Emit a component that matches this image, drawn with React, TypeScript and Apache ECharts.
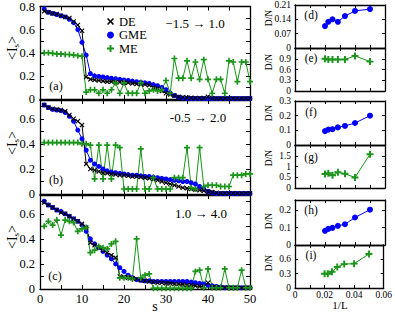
import React, { useEffect, useRef } from "react";
import * as echarts from "echarts";

const FONT = "Liberation Serif";

// s positions
const S = [1,2,3,4,5,6,7,8,9,10,11,12,13,14,15,16,17,18,19,20,21,22,23,24,25,26,27,28,29,30,31,32,33,34,35,36,37,38,39,40,41,42,43,44,45,46,47,48,49,50];

// panel (a)  -1.5 -> 1.0
const DE_A = [0.76,0.75,0.74,0.735,0.72,0.71,0.70,0.67,0.64,0.59, 0.19,0.17,0.165,0.16,0.155,0.15,0.15,0.145,0.145,0.14, 0.14,0.135,0.13,0.13,0.125,0.12,0.10,0.09,0.07,0.05, 0.04,0.03,0.02,0.015,0.01,0.01,0.008,0.008,0.008,0.02, 0.006,0.005,0.005,0.005,0.005,0.005,0.005,0.005,0.005,0.005];
const GME_A = [0.78,0.75,0.74,0.73,0.72,0.71,0.69,0.66,0.60,0.49, 0.38,0.22,0.20,0.195,0.19,0.185,0.18,0.175,0.17,0.165, 0.16,0.155,0.15,0.145,0.14,0.135,0.125,0.115,0.10,0.08, 0.05,0.03,0.015,0.008,0.004,0.004,0.004,0.004,0.004,0.004, 0.004,0.004,0.004,0.004,0.004,0.004,0.004,0.004,0.004,0.004];
const ME_A = [0.40,0.40,0.395,0.39,0.39,0.385,0.385,0.38,0.375,0.37, 0.06,0.08,0.08,0.05,0.08,0.05,0.08,0.14,0.05,0.14, 0.05,0.05,0.05,0.14,0.05,0.07,0.08,0.07,0.08,0.16, 0.05,0.35,0.18,0.18,0.33,0.18,0.32,0.17,0.34,0.17, 0.05,0.17,0.17,0.05,0.33,0.32,0.15,0.32,0.32,0.15];

// panel (b)  -0.5 -> 2.0
const DE_B = [0.71,0.69,0.68,0.675,0.67,0.66,0.63,0.60,0.58,0.55, 0.24,0.20,0.19,0.18,0.17,0.165,0.16,0.155,0.15,0.15, 0.145,0.14,0.14,0.135,0.13,0.125,0.12,0.11,0.10,0.09, 0.08,0.07,0.06,0.05,0.045,0.04,0.035,0.03,0.025,0.02, 0.015,0.01,0.005,0.005,0.005,0.005,0.005,0.005,0.005,0.005];
const GME_B = [0.71,0.69,0.675,0.67,0.665,0.65,0.62,0.58,0.51,0.44, 0.35,0.27,0.24,0.22,0.20,0.185,0.175,0.17,0.165,0.16, 0.155,0.15,0.15,0.145,0.14,0.14,0.135,0.13,0.125,0.12, 0.115,0.11,0.105,0.10,0.10,0.09,0.08,0.06,0.04,0.02, 0.01,0.004,0.004,0.004,0.004,0.004,0.004,0.004,0.004,0.004];
const ME_B = [0.41,0.41,0.41,0.41,0.41,0.41,0.41,0.41,0.41,0.40, 0.40,0.39,0.12,0.39,0.12,0.39,0.12,0.39,0.37,0.04, 0.04,0.04,0.04,0.36,0.04,0.04,0.13,0.04,0.04,0.04, 0.04,0.13,0.13,0.13,0.37,0.05,0.04,0.37,0.06,0.07, 0.07,0.07,0.06,0.06,0.06,0.15,0.15,0.15,0.16,0.16];

// panel (c)  1.0 -> 4.0
const DE_C = [0.69,0.67,0.65,0.63,0.61,0.60,0.58,0.56,0.54,0.52, 0.49,0.37,0.35,0.33,0.31,0.29,0.27,0.25,0.10,0.095, 0.09,0.085,0.08,0.07,0.065,0.06,0.055,0.05,0.05,0.045, 0.045,0.04,0.04,0.035,0.03,0.03,0.025,0.02,0.02,0.05, 0.015,0.015,0.012,0.012,0.01,0.01,0.01,0.01,0.01,0.01];
const GME_C = [0.70,0.67,0.65,0.63,0.62,0.60,0.58,0.56,0.54,0.51, 0.46,0.40,0.36,0.33,0.30,0.27,0.24,0.20,0.17,0.14, 0.11,0.09,0.075,0.07,0.065,0.065,0.06,0.06,0.06,0.06, 0.06,0.06,0.06,0.06,0.06,0.055,0.05,0.045,0.04,0.03, 0.025,0.02,0.015,0.01,0.01,0.01,0.01,0.01,0.01,0.01];
const ME_C = [0.50,0.54,0.51,0.55,0.43,0.55,0.54,0.53,0.46,0.48, 0.49,0.29,0.31,0.34,0.33,0.32,0.36,0.38,0.09,0.09, 0.09,0.08,0.40,0.09,0.11,0.12,0.005,0.005,0.005,0.005, 0.005,0.005,0.005,0.005,0.005,0.005,0.14,0.15,0.01,0.16, 0.01,0.01,0.01,0.16,0.01,0.01,0.01,0.15,0.01,0.01];

// right column: D/N vs 1/L
const INV_L = [0.02, 0.0222, 0.025, 0.0286, 0.0333, 0.04, 0.05];
const D_GME = [0.107, 0.128, 0.140, 0.128, 0.156, 0.181, 0.190];
const E_ME = [0.90, 0.88, 0.88, 0.88, 0.88, 0.98, 0.82];
const F_GME = [0.095, 0.105, 0.108, 0.12, 0.13, 0.15, 0.20];
const G_ME = [0.65, 0.69, 0.59, 0.73, 0.66, 0.49, 1.57];
const H_GME = [0.082, 0.093, 0.099, 0.111, 0.120, 0.159, 0.204];
const I_ME = [0.30, 0.30, 0.34, 0.44, 0.50, 0.51, 0.71];

const BLACK = "#000000";
const BLUE = "#0000ff";
const GREEN = "#1a951a";
const CROSS = "path://M0,1.6L1.6,0L5,3.4L8.4,0L10,1.6L6.6,5L10,8.4L8.4,10L5,6.6L1.6,10L0,8.4L3.4,5Z";
const PLUS = "path://M3.6,0H6.4V3.6H10V6.4H6.4V10H3.6V6.4H0V3.6H3.6Z";

type Panel = {
  left: number; top: number; width: number; height: number;
  xmin: number; xmax: number; xint: number; xEvery: number; showX: boolean; xfs: number; xmargin: number;
  ymin: number; ymax: number; yint: number; yEvery: number; showMaxY: boolean; yfs: number;
  tick: number; ymargin: number;
};

const isMult = (v: number, every: number) => Math.abs(v / every - Math.round(v / every)) < 1e-6;
const fmtNum = (v: number) => String(Math.round(v * 10000) / 10000);

function buildAxes(panels: Panel[]) {
  const grid: any[] = [];
  const xAxis: any[] = [];
  const yAxis: any[] = [];
  panels.forEach((p, g) => {
    grid.push({ left: p.left, top: p.top, width: p.width, height: p.height, show: false });
    const lineStyle = { color: "#000", width: 1.3 };
    const xb: any = {
      type: "value", gridIndex: g, min: p.xmin, max: p.xmax, interval: p.xint, position: "bottom",
      axisLine: { show: true, onZero: false, lineStyle },
      axisTick: { show: true, inside: true, length: p.tick, lineStyle: { color: "#000", width: 1 } },
      axisLabel: {
        show: p.showX, margin: p.xmargin, fontSize: p.xfs, color: "#000", fontFamily: FONT,
        formatter: (v: number) => (isMult(v, p.xEvery) ? fmtNum(v) : ""),
      },
      splitLine: { show: false },
    };
    xAxis.push(xb);
    xAxis.push({ ...xb, position: "top", axisLabel: { show: false } });
    const yb: any = {
      type: "value", gridIndex: g, min: p.ymin, max: p.ymax, interval: p.yint, position: "left",
      axisLine: { show: true, onZero: false, lineStyle },
      axisTick: { show: true, inside: true, length: p.tick, lineStyle: { color: "#000", width: 1 } },
      axisLabel: {
        show: true, margin: p.ymargin, fontSize: p.yfs, color: "#000", fontFamily: FONT,
        showMaxLabel: p.showMaxY,
        formatter: (v: number) => (isMult(v, p.yEvery) ? fmtNum(v) : ""),
      },
      splitLine: { show: false },
    };
    yAxis.push(yb);
    yAxis.push({ ...yb, position: "right", axisLabel: { show: false } });
  });
  return { grid, xAxis, yAxis };
}

const LP = { left: 40, width: 210, height: 94, xmin: 0, xmax: 50, xint: 5, xEvery: 10, xfs: 12.5, xmargin: 3, ymin: 0, yint: 0.1, yEvery: 0.2, yfs: 12.5, tick: 4, ymargin: 5 };
const RP = { left: 295, width: 90, xmin: 0, xmax: 0.06, xint: 0.01, xEvery: 0.02, xfs: 9.5, xmargin: 2, ymin: 0, yfs: 9.5, tick: 3, ymargin: 4 };

const PANELS: Panel[] = [
  { ...LP, top: 5, ymax: 0.8, showX: false, showMaxY: true },
  { ...LP, top: 100, ymax: 0.75, showX: false, showMaxY: false },
  { ...LP, top: 195, ymax: 0.75, showX: true, showMaxY: false },
  { ...RP, top: 5, height: 43, ymax: 0.21, yint: 0.07, yEvery: 0.07, showX: false, showMaxY: true },
  { ...RP, top: 48, height: 43, ymax: 1.2, yint: 0.3, yEvery: 0.3, showX: false, showMaxY: false },
  { ...RP, top: 101, height: 44, ymax: 0.3, yint: 0.1, yEvery: 0.1, showX: false, showMaxY: true },
  { ...RP, top: 145, height: 43, ymax: 2, yint: 0.5, yEvery: 0.5, showX: false, showMaxY: false },
  { ...RP, top: 200, height: 45, ymax: 0.26, yint: 0.1, yEvery: 0.1, showX: false, showMaxY: false },
  { ...RP, top: 245, height: 43, ymax: 0.9, yint: 0.3, yEvery: 0.3, showX: true, showMaxY: false },
];

function lineSeries(name: string, g: number, xs: number[], ys: number[], kind: "DE" | "GME" | "ME", big: boolean) {
  const color = kind === "DE" ? BLACK : kind === "GME" ? BLUE : GREEN;
  const symbol = kind === "DE" ? CROSS : kind === "GME" ? "circle" : PLUS;
  const size = kind === "DE" ? 5 : kind === "GME" ? (big ? 6 : 5) : (big ? 7 : 6);
  return {
    name, type: "line", xAxisIndex: 2 * g, yAxisIndex: 2 * g,
    data: xs.map((x, i) => [x, ys[i]]),
    symbol, symbolSize: size, showAllSymbol: true,
    lineStyle: { color, width: 1 }, itemStyle: { color },
    emphasis: { disabled: true },
  };
}

function txt(text: string, x: number, y: number, fontSize: number, rotate = false, extra: any = {}) {
  return {
    type: "text", x, y, rotation: rotate ? Math.PI / 2 : 0,
    style: { text, fontSize, fontFamily: FONT, fill: "#000", textAlign: "center", textVerticalAlign: "middle", ...extra },
  };
}

export default function App() {
  const ref = useRef<HTMLDivElement>(null);
  useEffect(() => {
    document.body.style.margin = "0";
    const chart = echarts.init(ref.current!, null, { renderer: "svg" });
    const { grid, xAxis, yAxis } = buildAxes(PANELS);
    const series: any[] = [
      lineSeries("GME", 0, S, GME_A, "GME", false),
      lineSeries("DE", 0, S, DE_A, "DE", false),
      lineSeries("ME", 0, S, ME_A, "ME", false),
      lineSeries("GME", 1, S, GME_B, "GME", false),
      lineSeries("DE", 1, S, DE_B, "DE", false),
      lineSeries("ME", 1, S, ME_B, "ME", false),
      lineSeries("GME", 2, S, GME_C, "GME", false),
      lineSeries("DE", 2, S, DE_C, "DE", false),
      lineSeries("ME", 2, S, ME_C, "ME", false),
      lineSeries("GME d", 3, INV_L, D_GME, "GME", true),
      lineSeries("ME e", 4, INV_L, E_ME, "ME", true),
      lineSeries("GME f", 5, INV_L, F_GME, "GME", true),
      lineSeries("ME g", 6, INV_L, G_ME, "ME", true),
      lineSeries("GME h", 7, INV_L, H_GME, "GME", true),
      lineSeries("ME i", 8, INV_L, I_ME, "ME", true),
    ];
    const Isub = { text: "<I{s|s}>", rich: { s: { fontSize: 9, fontFamily: FONT, padding: [7, 0, 0, 0] } } };
    const graphic: any[] = [
      txt("−1.5 → 1.0", 195, 23, 13),
      txt("-0.5 → 2.0", 198, 117, 13),
      txt("1.0 → 4.0", 201, 213, 13),
      txt("(a)", 56, 86, 12), txt("(b)", 56, 180, 12), txt("(c)", 55, 276, 12),
      txt("(d)", 311, 15, 11.5), txt("(e)", 311, 58, 11.5), txt("(f)", 311, 112, 11.5),
      txt("(g)", 311, 157, 11.5), txt("(h)", 311, 210, 11.5), txt("(i)", 311, 255, 11.5),
      txt("", 12, 48, 14, true, Isub), txt("", 12, 143, 14, true, Isub), txt("", 12, 237, 14, true, Isub),
      txt("D/N", 269, 18, 9.5, true), txt("D/N", 269, 62, 9.5, true), txt("D/N", 269, 113, 9.5, true),
      txt("D/N", 269, 158, 9.5, true), txt("D/N", 269, 221, 9.5, true), txt("D/N", 269, 263, 9.5, true),
      txt("s", 155, 306, 14),
      txt("1/L", 340, 305, 11),
    ];
    chart.setOption({
      animation: false,
      textStyle: { fontFamily: FONT },
      grid, xAxis, yAxis, series, graphic,
      legend: {
        orient: "vertical", left: 102, top: 10, itemWidth: 7, itemHeight: 7, itemGap: 0.5,
        selectedMode: false,
        textStyle: { fontFamily: FONT, fontSize: 12.5, color: "#000", lineHeight: 12 },
        data: [
          { name: "DE", icon: CROSS },
          { name: "GME", icon: "circle" },
          { name: "ME", icon: PLUS },
        ],
      },
    });
    return () => chart.dispose();
  }, []);
  return <div ref={ref} style={{ width: 395, height: 312 }} />;
}
